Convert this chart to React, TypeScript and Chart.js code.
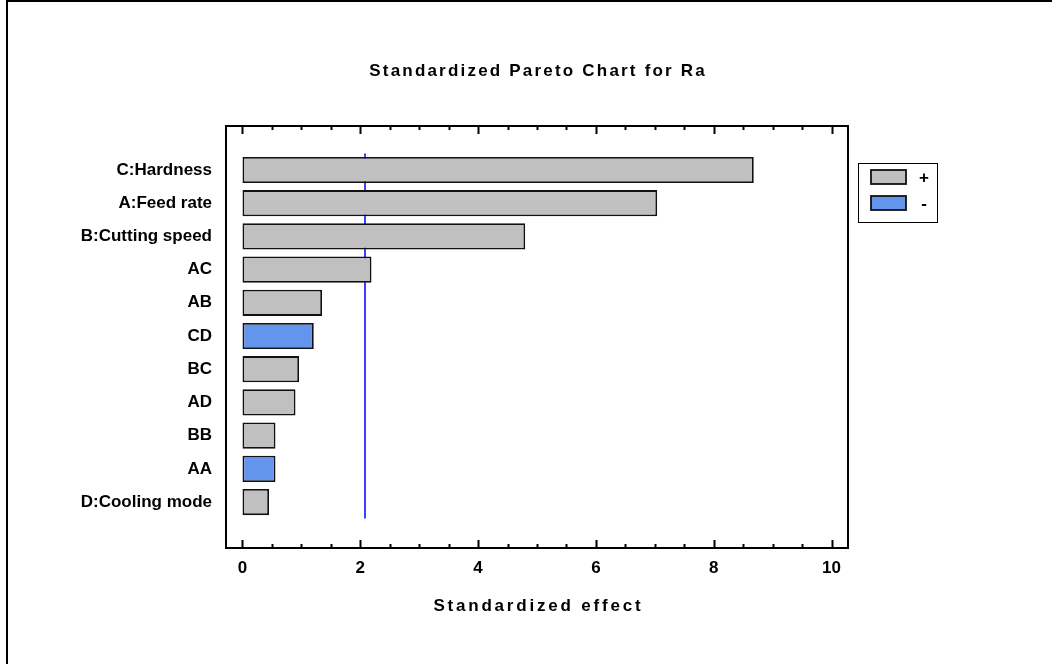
import React, { useEffect, useRef } from 'react';
import { Chart, registerables } from 'chart.js';

Chart.register(...registerables);

// ---- data ----
const categories = [
  'C:Hardness',
  'A:Feed rate',
  'B:Cutting speed',
  'AC',
  'AB',
  'CD',
  'BC',
  'AD',
  'BB',
  'AA',
  'D:Cooling mode',
];
const effects = [8.68, 7.04, 4.8, 2.19, 1.35, 1.21, 0.96, 0.9, 0.56, 0.56, 0.45];
const signs = ['+', '+', '+', '+', '+', '-', '+', '+', '+', '-', '+'];
const criticalValue = 2.08;
const xTickValues = [0, 2, 4, 6, 8, 10];
const legendLabels = ['+', '-'];
const chartTitle = 'Standardized Pareto Chart for Ra';
const xAxisTitle = 'Standardized effect';

// ---- styles ----
const GRAY = '#C0C0C0';
const BLUE = '#6495ED';
const FONT = '"Liberation Sans", Arial, sans-serif';
const FONT_SIZE = 17;

function spacedText(ctx: any, text: string, x: number, y: number, spacing: number) {
  ctx.letterSpacing = `${spacing}px`;
  ctx.fillText(text, x + spacing / 2, y);
  ctx.letterSpacing = '0px';
}

const framePlugin = {
  id: 'framePlugin',
  afterDraw(chart: any) {
    const { ctx, chartArea, scales } = chart;
    const xs = scales.x;
    ctx.save();
    // outer border
    ctx.strokeStyle = '#000';
    ctx.lineWidth = 2;
    ctx.beginPath();
    ctx.moveTo(1052, 1);
    ctx.lineTo(7, 1);
    ctx.lineTo(7, 664);
    ctx.stroke();

    // plot frame
    ctx.lineWidth = 2;
    ctx.strokeRect(chartArea.left, chartArea.top, chartArea.right - chartArea.left, chartArea.bottom - chartArea.top);

    // ticks on top and bottom (inward)
    for (let i = 0; i <= 20; i++) {
      const v = i * 0.5;
      const px = Math.round(xs.getPixelForValue(v)) + 0.5;
      const len = i % 4 === 0 ? 8 : 4;
      ctx.beginPath();
      ctx.moveTo(px, chartArea.top);
      ctx.lineTo(px, chartArea.top + len);
      ctx.moveTo(px, chartArea.bottom);
      ctx.lineTo(px, chartArea.bottom - len);
      ctx.stroke();
    }

    const cx = (chartArea.left + chartArea.right) / 2;
    ctx.fillStyle = '#000';
    ctx.font = `bold ${FONT_SIZE}px ${FONT}`;
    ctx.textAlign = 'center';
    ctx.textBaseline = 'middle';
    // title
    spacedText(ctx, chartTitle, cx, 71, 2.2);
    // x axis title
    spacedText(ctx, xAxisTitle, cx, 606, 2.8);

    // legend
    const lx = 858, ly = 163, lw = 79, lh = 59;
    ctx.lineWidth = 1;
    ctx.strokeStyle = '#000';
    ctx.strokeRect(lx + 0.5, ly + 0.5, lw, lh);
    const colors = [GRAY, BLUE];
    legendLabels.forEach((lab, i) => {
      const sy = ly + 7 + i * 26;
      ctx.fillStyle = colors[i];
      ctx.fillRect(lx + 13, sy, 35, 14);
      ctx.lineWidth = 1.8;
      ctx.strokeStyle = '#111';
      ctx.strokeRect(lx + 13, sy, 35, 14);
      ctx.fillStyle = '#000';
      ctx.fillText(lab, lx + 66, sy + 8);
    });
    ctx.restore();
  },
};

export default function App() {
  const ref = useRef<HTMLCanvasElement>(null);
  useEffect(() => {
    if (!ref.current) return;
    const barData = effects.map((v, i) => ({ x: v, y: i }));
    const chart = new Chart(ref.current, {
      type: 'bar',
      data: {
        datasets: [
          {
            type: 'bar',
            label: 'effects',
            data: barData as any,
            indexAxis: 'y',
            backgroundColor: signs.map((s) => (s === '+' ? GRAY : BLUE)),
            borderColor: '#111',
            borderWidth: 1.8,
            borderSkipped: false,
            categoryPercentage: 0.79,
            barPercentage: 1,
          } as any,
          {
            type: 'line',
            label: 'critical',
            data: [
              { x: criticalValue, y: -0.5 },
              { x: criticalValue, y: categories.length - 0.5 },
            ],
            borderColor: '#0000FF',
            borderWidth: 1.5,
            pointRadius: 0,
            fill: false,
          } as any,
        ],
      },
      options: {
        animation: false,
        responsive: false,
        indexAxis: 'y',
        layout: { padding: { top: 126, right: 204, left: 0, bottom: 664 - 548 - 40 } },
        plugins: {
          legend: { display: false },
          title: { display: false },
          tooltip: { enabled: false },
        },
        scales: {
          x: {
            type: 'linear',
            position: 'bottom',
            offset: false,
            bounds: 'data',
            min: -0.28,
            max: 10.28,
            afterBuildTicks: (s: any) => {
              s.ticks = xTickValues.map((v) => ({ value: v }));
            },
            afterFit: (s: any) => {
              s.height = 40;
            },
            grid: { display: false, drawTicks: false, offset: false },
            border: { display: false },
            ticks: {
              color: '#000',
              padding: 10,
              maxRotation: 0,
              autoSkip: false,
              font: { family: FONT, size: FONT_SIZE, weight: 'bold' },
            },
          },
          y: {
            type: 'linear',
            position: 'left',
            offset: false,
            bounds: 'data',
            reverse: true,
            min: -1.325,
            max: categories.length - 1 + 1.385,
            afterBuildTicks: (s: any) => {
              s.ticks = categories.map((_, i) => ({ value: i }));
            },
            afterFit: (s: any) => {
              s.width = 226;
            },
            grid: { display: false, drawTicks: false, offset: false },
            border: { display: false },
            ticks: {
              color: '#000',
              padding: 14,
              autoSkip: false,
              font: { family: FONT, size: FONT_SIZE, weight: 'bold' },
              callback: (v: any) => categories[v] ?? '',
            },
          },
        },
      } as any,
      plugins: [framePlugin],
    });
    return () => chart.destroy();
  }, []);

  return (
    <div style={{ position: 'fixed', left: 0, top: 0, width: 1052, height: 664, background: '#fff' }}>
      <canvas ref={ref} width={1052} height={664} style={{ display: 'block', width: 1052, height: 664 }} />
    </div>
  );
}
